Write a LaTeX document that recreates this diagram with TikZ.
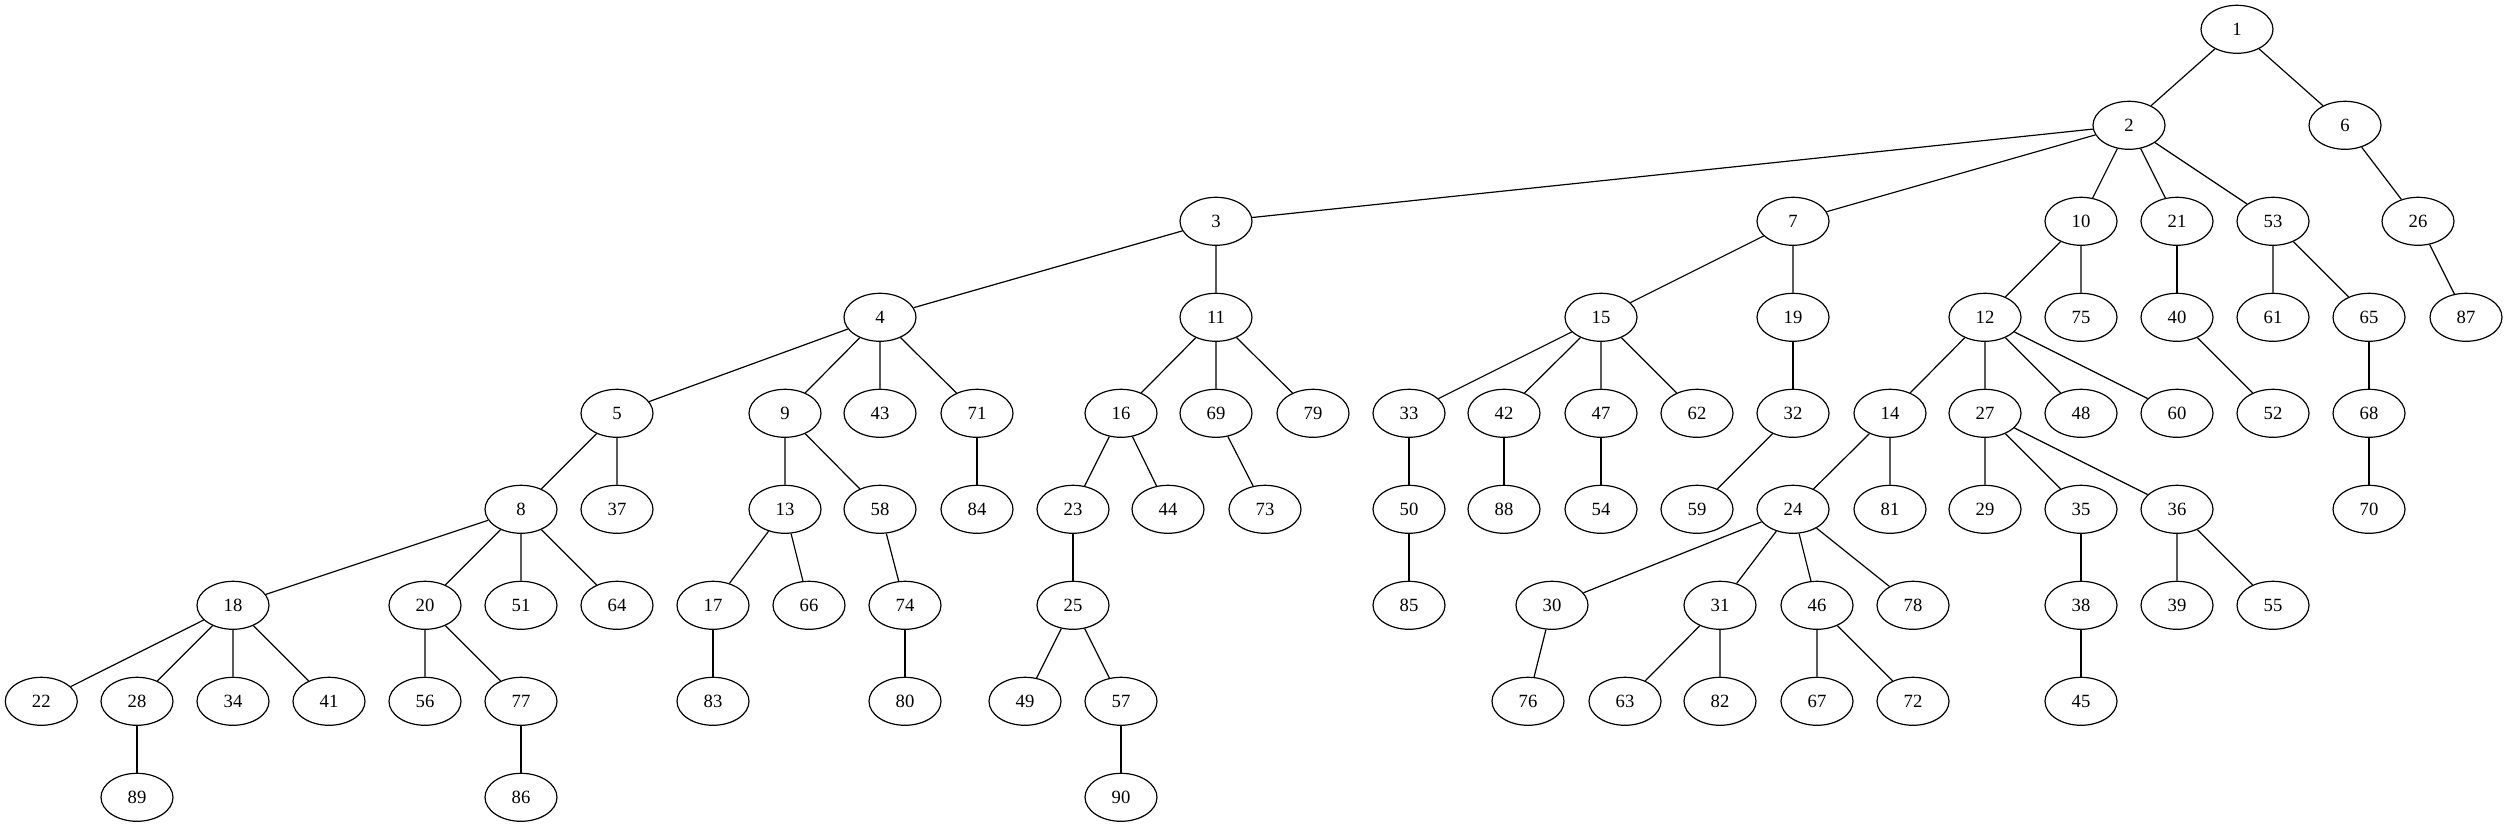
\documentclass[tikz,border=0pt]{standalone}
\usepackage{fontspec}
\setmainfont{Liberation Serif}
\usetikzlibrary{shapes.geometric}

\begin{document}
\begin{tikzpicture}[x=0.75pt,y=0.75pt,yscale=-1,xscale=1,
	vertex/.style={draw, ellipse, line width=0.9pt, minimum width=54pt, minimum height=36pt, inner sep=0pt, font=\fontsize{14}{16}\selectfont},
	tie/.style={line width=0.9pt}]
	\useasboundingbox (0,0) rectangle (2507,827);

	% Rank 0
	\node [vertex] (n1) at (2237,29.3) {1};
	% Rank 1
	\node [vertex] (n2) at (2129,125.3) {2};
	\node [vertex] (n6) at (2345,125.3) {6};
	% Rank 2
	\node [vertex] (n3) at (1216,221.3) {3};
	\node [vertex] (n7) at (1793,221.3) {7};
	\node [vertex] (n10) at (2081,221.3) {10};
	\node [vertex] (n21) at (2177,221.3) {21};
	\node [vertex] (n53) at (2273,221.3) {53};
	\node [vertex] (n26) at (2418,221.3) {26};
	% Rank 3
	\node [vertex] (n4) at (880,317.3) {4};
	\node [vertex] (n11) at (1216,317.3) {11};
	\node [vertex] (n15) at (1601,317.3) {15};
	\node [vertex] (n19) at (1793,317.3) {19};
	\node [vertex] (n12) at (1985,317.3) {12};
	\node [vertex] (n75) at (2081,317.3) {75};
	\node [vertex] (n40) at (2177,317.3) {40};
	\node [vertex] (n61) at (2273,317.3) {61};
	\node [vertex] (n65) at (2369,317.3) {65};
	\node [vertex] (n87) at (2466,317.3) {87};
	% Rank 4
	\node [vertex] (n5) at (617,413.3) {5};
	\node [vertex] (n9) at (785,413.3) {9};
	\node [vertex] (n43) at (880,413.3) {43};
	\node [vertex] (n71) at (977,413.3) {71};
	\node [vertex] (n16) at (1121,413.3) {16};
	\node [vertex] (n69) at (1216,413.3) {69};
	\node [vertex] (n79) at (1313,413.3) {79};
	\node [vertex] (n33) at (1409,413.3) {33};
	\node [vertex] (n42) at (1504,413.3) {42};
	\node [vertex] (n47) at (1601,413.3) {47};
	\node [vertex] (n62) at (1697,413.3) {62};
	\node [vertex] (n32) at (1793,413.3) {32};
	\node [vertex] (n14) at (1890,413.3) {14};
	\node [vertex] (n27) at (1985,413.3) {27};
	\node [vertex] (n48) at (2081,413.3) {48};
	\node [vertex] (n60) at (2177,413.3) {60};
	\node [vertex] (n52) at (2273,413.3) {52};
	\node [vertex] (n68) at (2369,413.3) {68};
	% Rank 5
	\node [vertex] (n8) at (521,509.3) {8};
	\node [vertex] (n37) at (617,509.3) {37};
	\node [vertex] (n13) at (785,509.3) {13};
	\node [vertex] (n58) at (880,509.3) {58};
	\node [vertex] (n84) at (977,509.3) {84};
	\node [vertex] (n23) at (1073,509.3) {23};
	\node [vertex] (n44) at (1168,509.3) {44};
	\node [vertex] (n73) at (1265,509.3) {73};
	\node [vertex] (n50) at (1409,509.3) {50};
	\node [vertex] (n88) at (1504,509.3) {88};
	\node [vertex] (n54) at (1601,509.3) {54};
	\node [vertex] (n59) at (1697,509.3) {59};
	\node [vertex] (n24) at (1793,509.3) {24};
	\node [vertex] (n81) at (1890,509.3) {81};
	\node [vertex] (n29) at (1985,509.3) {29};
	\node [vertex] (n35) at (2081,509.3) {35};
	\node [vertex] (n36) at (2177,509.3) {36};
	\node [vertex] (n70) at (2369,509.3) {70};
	% Rank 6
	\node [vertex] (n18) at (233,605.3) {18};
	\node [vertex] (n20) at (425,605.3) {20};
	\node [vertex] (n51) at (521,605.3) {51};
	\node [vertex] (n64) at (617,605.3) {64};
	\node [vertex] (n17) at (713,605.3) {17};
	\node [vertex] (n66) at (809,605.3) {66};
	\node [vertex] (n74) at (905,605.3) {74};
	\node [vertex] (n25) at (1073,605.3) {25};
	\node [vertex] (n85) at (1409,605.3) {85};
	\node [vertex] (n30) at (1552,605.3) {30};
	\node [vertex] (n31) at (1720,605.3) {31};
	\node [vertex] (n46) at (1817,605.3) {46};
	\node [vertex] (n78) at (1913,605.3) {78};
	\node [vertex] (n38) at (2081,605.3) {38};
	\node [vertex] (n39) at (2177,605.3) {39};
	\node [vertex] (n55) at (2273,605.3) {55};
	% Rank 7
	\node [vertex] (n22) at (41.3,701.3) {22};
	\node [vertex] (n28) at (137,701.3) {28};
	\node [vertex] (n34) at (233,701.3) {34};
	\node [vertex] (n41) at (329,701.3) {41};
	\node [vertex] (n56) at (425,701.3) {56};
	\node [vertex] (n77) at (521,701.3) {77};
	\node [vertex] (n83) at (713,701.3) {83};
	\node [vertex] (n80) at (905,701.3) {80};
	\node [vertex] (n49) at (1025,701.3) {49};
	\node [vertex] (n57) at (1121,701.3) {57};
	\node [vertex] (n76) at (1528,701.3) {76};
	\node [vertex] (n63) at (1625,701.3) {63};
	\node [vertex] (n82) at (1720,701.3) {82};
	\node [vertex] (n67) at (1817,701.3) {67};
	\node [vertex] (n72) at (1913,701.3) {72};
	\node [vertex] (n45) at (2081,701.3) {45};
	% Rank 8
	\node [vertex] (n89) at (137,797.3) {89};
	\node [vertex] (n86) at (521,797.3) {86};
	\node [vertex] (n90) at (1121,797.3) {90};

	% Edges
	\draw [tie] (n1) -- (n2) (n1) -- (n6);
	\draw [tie] (n2) -- (n3) (n2) -- (n7) (n2) -- (n10) (n2) -- (n21) (n2) -- (n53);
	\draw [tie] (n6) -- (n26);
	\draw [tie] (n3) -- (n4) (n3) -- (n11);
	\draw [tie] (n7) -- (n15) (n7) -- (n19);
	\draw [tie] (n10) -- (n12) (n10) -- (n75);
	\draw [tie] (n21) -- (n40);
	\draw [tie] (n53) -- (n61) (n53) -- (n65);
	\draw [tie] (n26) -- (n87);
	\draw [tie] (n4) -- (n5) (n4) -- (n9) (n4) -- (n43) (n4) -- (n71);
	\draw [tie] (n11) -- (n16) (n11) -- (n69) (n11) -- (n79);
	\draw [tie] (n15) -- (n33) (n15) -- (n42) (n15) -- (n47) (n15) -- (n62);
	\draw [tie] (n19) -- (n32);
	\draw [tie] (n12) -- (n14) (n12) -- (n27) (n12) -- (n48) (n12) -- (n60);
	\draw [tie] (n40) -- (n52);
	\draw [tie] (n65) -- (n68);
	\draw [tie] (n5) -- (n8) (n5) -- (n37);
	\draw [tie] (n9) -- (n13) (n9) -- (n58);
	\draw [tie] (n71) -- (n84);
	\draw [tie] (n16) -- (n23) (n16) -- (n44);
	\draw [tie] (n69) -- (n73);
	\draw [tie] (n33) -- (n50);
	\draw [tie] (n42) -- (n88);
	\draw [tie] (n47) -- (n54);
	\draw [tie] (n32) -- (n59);
	\draw [tie] (n14) -- (n24) (n14) -- (n81);
	\draw [tie] (n27) -- (n29) (n27) -- (n35) (n27) -- (n36);
	\draw [tie] (n68) -- (n70);
	\draw [tie] (n8) -- (n18) (n8) -- (n20) (n8) -- (n51) (n8) -- (n64);
	\draw [tie] (n13) -- (n17) (n13) -- (n66);
	\draw [tie] (n58) -- (n74);
	\draw [tie] (n23) -- (n25);
	\draw [tie] (n50) -- (n85);
	\draw [tie] (n24) -- (n30) (n24) -- (n31) (n24) -- (n46) (n24) -- (n78);
	\draw [tie] (n35) -- (n38);
	\draw [tie] (n36) -- (n39) (n36) -- (n55);
	\draw [tie] (n18) -- (n22) (n18) -- (n28) (n18) -- (n34) (n18) -- (n41);
	\draw [tie] (n20) -- (n56) (n20) -- (n77);
	\draw [tie] (n17) -- (n83);
	\draw [tie] (n74) -- (n80);
	\draw [tie] (n25) -- (n49) (n25) -- (n57);
	\draw [tie] (n30) -- (n76);
	\draw [tie] (n31) -- (n63) (n31) -- (n82);
	\draw [tie] (n46) -- (n67) (n46) -- (n72);
	\draw [tie] (n38) -- (n45);
	\draw [tie] (n28) -- (n89);
	\draw [tie] (n77) -- (n86);
	\draw [tie] (n57) -- (n90);

\end{tikzpicture}
\end{document}
